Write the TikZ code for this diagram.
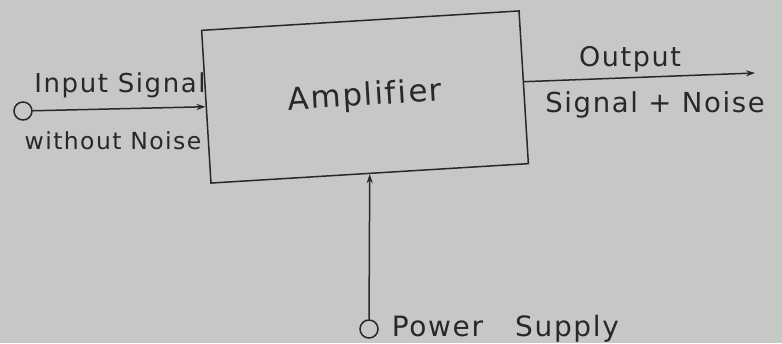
\documentclass[tikz,border=0pt]{standalone}
\usepackage{fontspec}
\setmainfont{DejaVu Sans}
\newfontfamily\lettering[LetterSpace=6, Ligatures=NoCommon]{DejaVu Sans}
\usetikzlibrary{arrows.meta}
\definecolor{paper}{RGB}{197,200,196}
\definecolor{ink}{RGB}{40,40,40}

\begin{document}
\begin{tikzpicture}[x=1pt, y=-1pt, ink, line width=1.5pt, >={Stealth[length=9pt, width=6pt]},
  port/.style={draw, circle, minimum size=18pt, inner sep=0pt},
  lbl/.style={inner sep=0pt}]
\fill[paper] (0,0) rectangle (782,343); \useasboundingbox (0,0) rectangle (782,343);
\node[draw, rotate=3.5, minimum width=318pt, minimum height=153pt, inner sep=0pt, font=\lettering\fontsize{31}{34}\selectfont] (amp) at (365,97) {Amplifier};
\node[port] (in) at (23,111) {}; \node[port] (pwr) at (369,329) {}; \coordinate (outend) at (755,73);
\draw[->] (in) -- (amp.west); \draw[->] (amp.2) -- (outend); \draw[->] (pwr) -- (amp.south);
\node[lbl, font=\lettering\fontsize{26}{30}\selectfont] (insig) at (120,85) {Input Signal}; \node[lbl, font=\lettering\fontsize{23.5}{28}\selectfont] (innoise) at (113,141) {without Noise};
\node[lbl, font=\lettering\fontsize{27}{30}\selectfont] (outlbl) at (630,59) {Output}; \node[lbl, font=\lettering\fontsize{27.5}{30}\selectfont] (outnoise) at (655,105) {Signal + Noise};
\node[lbl, font=\lettering\fontsize{28}{30}\selectfont, anchor=west] (pwrlbl) at (391,329) {Power\hspace{32pt}Supply};
\end{tikzpicture}
\end{document}
